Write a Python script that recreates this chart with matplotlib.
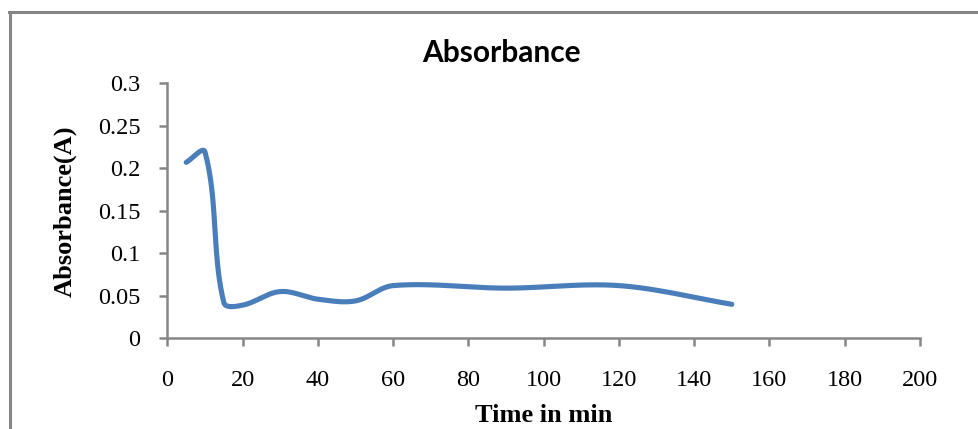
import numpy as np
import matplotlib
matplotlib.use("Agg")
import matplotlib.pyplot as plt
from matplotlib.lines import Line2D

# Data
time_min = [5, 10, 15, 20, 30, 40, 50, 60, 90, 120, 150]
absorbance = [0.207, 0.219, 0.042, 0.039, 0.055, 0.046, 0.044, 0.062, 0.059, 0.062, 0.040]
x_ticks = [0, 20, 40, 60, 80, 100, 120, 140, 160, 180, 200]
y_ticks = [0, 0.05, 0.1, 0.15, 0.2, 0.25, 0.3]
y_tick_labels = ["0", "0.05", "0.1", "0.15", "0.2", "0.25", "0.3"]


def smooth(xs, ys, n=80, k=1.0 / 3.0):
    """Excel-like smoothed line: Bezier segments, tangent length scaled by segment length."""
    xs = np.asarray(xs, float)
    ys = np.asarray(ys, float)
    sx, sy = 752.6 / 200.0, 255.0 / 0.3  # pixel scale, so smoothing happens in display space
    P = np.column_stack([xs * sx, ys * sy])
    m = len(P)
    T = []
    for i in range(m):
        a = P[i - 1] if i > 0 else P[i]
        b = P[i + 1] if i + 1 < m else P[i]
        d = b - a
        T.append(d / np.linalg.norm(d))
    out = []
    for i in range(m - 1):
        p1, p2 = P[i], P[i + 1]
        L = np.linalg.norm(p2 - p1)
        c1 = p1 + T[i] * L * k
        c2 = p2 - T[i + 1] * L * k
        t = np.linspace(0, 1, n)[:, None]
        seg = ((1 - t) ** 3) * p1 + 3 * ((1 - t) ** 2) * t * c1 + 3 * (1 - t) * t ** 2 * c2 + t ** 3 * p2
        out.append(seg if i == 0 else seg[1:])
    out = np.vstack(out)
    return out[:, 0] / sx, out[:, 1] / sy


fig = plt.figure(figsize=(9.79, 4.29), dpi=100)
W, H = 979, 429
ax = fig.add_axes([167.4 / W, 1 - 338.3 / H, (920 - 167.4) / W, (338.3 - 83.3) / H])

sxv, syv = smooth(time_min, absorbance)
ax.plot(sxv, syv, color="#4a7ebb", lw=3.7, solid_capstyle="round", solid_joinstyle="round", zorder=3)

ax.set_xlim(0, 200)
ax.set_ylim(0, 0.3)
ax.set_xticks(x_ticks)
ax.set_xticklabels([str(v) for v in x_ticks])
ax.set_yticks(y_ticks)
ax.set_yticklabels(y_tick_labels)

grey = "#868686"
for s in ["top", "right"]:
    ax.spines[s].set_visible(False)
for s in ["left", "bottom"]:
    ax.spines[s].set_color(grey)
    ax.spines[s].set_linewidth(1.8)
ax.tick_params(axis="both", direction="out", length=5.5, width=1.8, color=grey,
               labelsize=17.5, labelcolor="black")
ax.tick_params(axis="x", pad=17)
ax.tick_params(axis="y", pad=14)
for lab in ax.get_xticklabels() + ax.get_yticklabels():
    lab.set_fontfamily("Liberation Serif")

ax.set_xlabel("Time in min", fontsize=19, fontweight="bold", family="Liberation Serif")
ax.xaxis.label.set_va("center")
ax.xaxis.set_label_coords(0.5, (338.3 - 416) / 255.0)
ax.set_ylabel("Absorbance(A)", fontsize=19, fontweight="bold", family="Liberation Serif")
ax.yaxis.label.set_va("center")
ax.yaxis.set_label_coords((65 - 167.4) / 752.6, 0.5)

fig.text(501 / W, 1 - 53 / H, "Absorbance", ha="center", va="center",
         fontsize=21.5, fontweight="bold", family="Lato")

# outer chart border (left and top visible)
fig.add_artist(Line2D([10 / W, 10 / W], [0, 1 - 12 / H], transform=fig.transFigure,
                      color=grey, lw=2.2))
fig.add_artist(Line2D([9 / W, 1], [1 - 12 / H, 1 - 12 / H], transform=fig.transFigure,
                      color=grey, lw=2.2))

fig.savefig("out.png", dpi=100)
